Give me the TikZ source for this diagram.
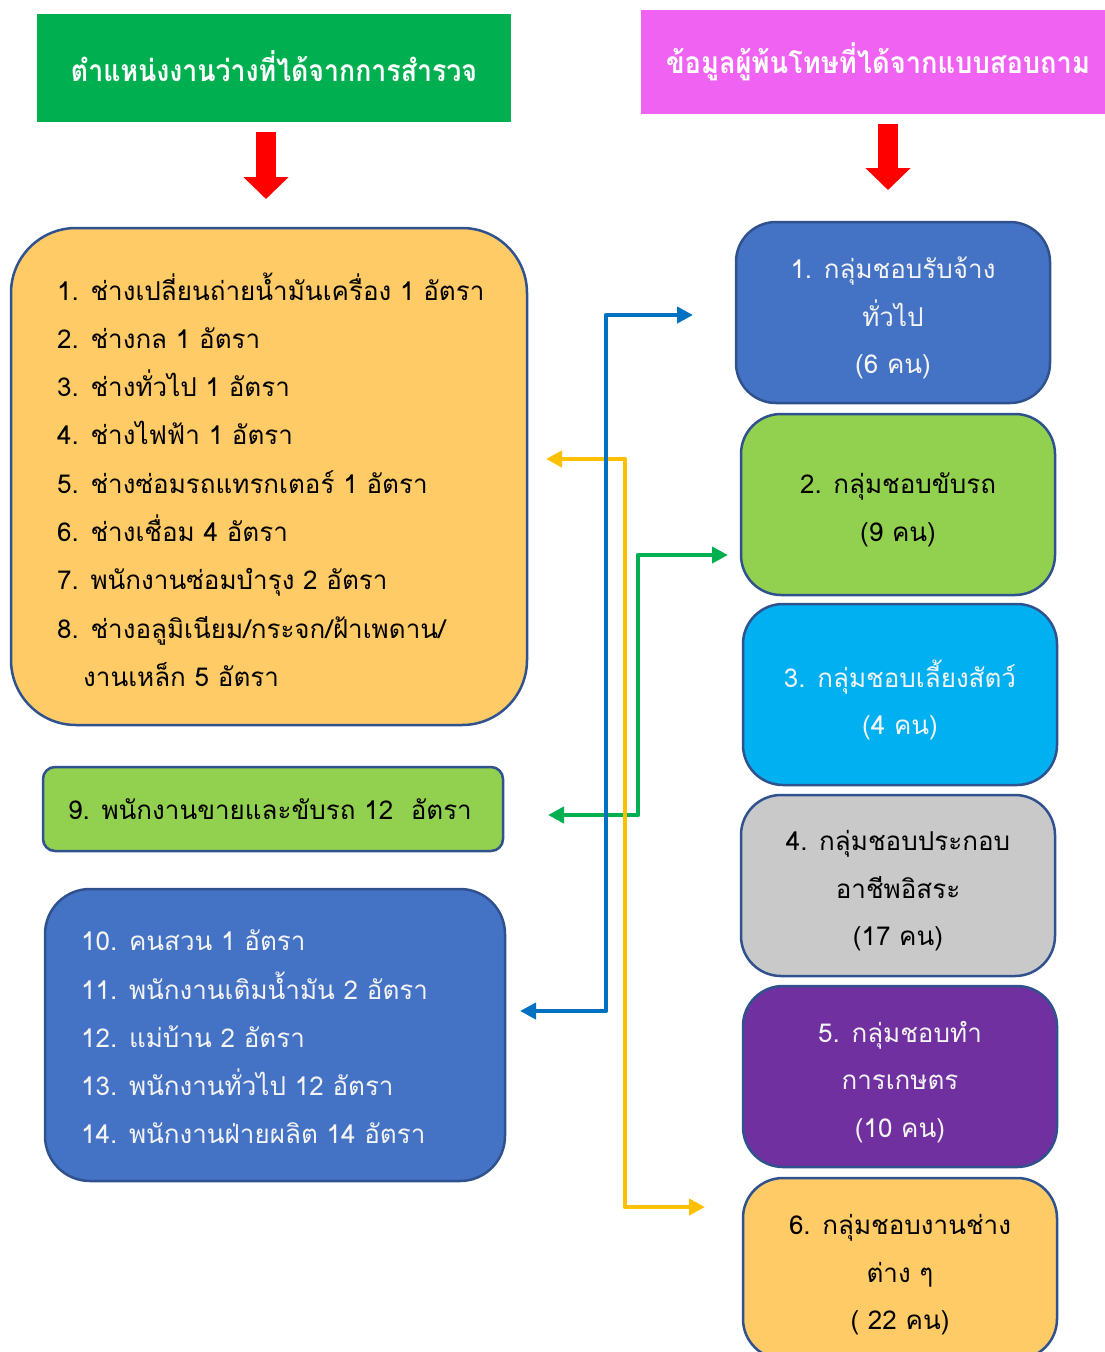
\documentclass[tikz,border=0pt]{standalone}
\usepackage{fontspec}
\usepackage{graphicx}
\newfontfamily\thaifont[Script=Thai]{Loma}
\usetikzlibrary{arrows.meta}
\definecolor{hgreen}{HTML}{00B050}
\definecolor{hmag}{HTML}{F062F2}
\definecolor{borangE}{HTML}{FFCB67}
\definecolor{bgreen}{HTML}{92D050}
\definecolor{bblue}{HTML}{4472C4}
\definecolor{bcyan}{HTML}{00B0F0}
\definecolor{bgray}{HTML}{C9C9C9}
\definecolor{bpurple}{HTML}{7030A0}
\definecolor{bord}{HTML}{2F528F}
\definecolor{cblue}{HTML}{0070C0}
\definecolor{cyellow}{HTML}{FFC000}
\definecolor{cgreen}{HTML}{00B050}
\definecolor{wtext}{HTML}{F4F4F4}
\tikzset{
  hdr/.style={inner sep=0pt, text=white, font=\thaifont\bfseries\fontsize{30}{32}\selectfont},
  bx/.style={draw=bord, line width=2.5pt},
  rbox/.style={bx, minimum width=314pt, minimum height=181pt, rounded corners=40pt},
  rtext/.style={inner sep=0pt, align=center, font=\thaifont\fontsize{26}{47.5}\selectfont},
  listtext/.style={inner sep=0pt, align=left, font=\thaifont\fontsize{26}{48.3}\selectfont},
  redarrow/.style={draw=red, line width=20pt, -{Triangle[length=22pt,width=44pt]}},
  conn/.style={line width=4.5pt, line join=round, {Triangle[length=16pt,width=16pt]}-{Triangle[length=16pt,width=16pt]}}
}
\begin{document}
\begin{tikzpicture}[x=1pt,y=-1pt]
\useasboundingbox (0,0) rectangle (1104,1352);
% headers
\node[hdr, fill=hgreen, minimum width=474pt, minimum height=108pt] (h1) at (274,68)
  {\raisebox{4pt}{\resizebox{406pt}{\height}{ตำแหน่งงานว่างที่ได้จากการสำรวจ}}};
\node[hdr, fill=hmag, minimum width=474pt, minimum height=104pt] (h2) at (878,62)
  {\raisebox{3pt}{\resizebox{424pt}{\height}{ข้อมูลผู้พ้นโทษที่ได้จากแบบสอบถาม}}};
% red arrows
\coordinate (ra1s) at (266,132); \coordinate (ra1e) at (266,199);
\coordinate (ra2s) at (888,124); \coordinate (ra2e) at (888,190);
\draw[redarrow] (ra1s) -- (ra1e);
\draw[redarrow] (ra2s) -- (ra2e);
% left boxes
\node[bx, fill=borangE, minimum width=516pt, minimum height=497pt, rounded corners=65pt] (L1) at (269,476.5) {};
\node[listtext, anchor=west] (L1t) at (57,479.5) {1. ช่างเปลี่ยนถ่ายน้ำมันเครื่อง 1 อัตรา\\
2. ช่างกล 1 อัตรา\\
3. ช่างทั่วไป 1 อัตรา\\
4. ช่างไฟฟ้า 1 อัตรา\\
5. ช่างซ่อมรถแทรกเตอร์ 1 อัตรา\\
6. ช่างเชื่อม 4 อัตรา\\
7. พนักงานซ่อมบำรุง 2 อัตรา\\
8. ช่างอลูมิเนียม/กระจก/ฝ้าเพดาน/\\
\hspace*{26pt}งานเหล็ก 5 อัตรา};
\node[bx, fill=bgreen, minimum width=460pt, minimum height=84pt, rounded corners=12pt] (L2) at (273,809) {};
\node[listtext, anchor=west] (L2t) at (68,809.5) {9. พนักงานขายและขับรถ 12\ \ อัตรา};
\node[bx, fill=bblue, minimum width=460pt, minimum height=292pt, rounded corners=45pt] (L3) at (275,1035) {};
\node[listtext, anchor=west, text=wtext] (L3t) at (81,1037) {10. คนสวน 1 อัตรา\\
11. พนักงานเติมน้ำมัน 2 อัตรา\\
12. แม่บ้าน 2 อัตรา\\
13. พนักงานทั่วไป 12 อัตรา\\
14. พนักงานฝ่ายผลิต 14 อัตรา};
% right boxes
\node[rbox, fill=bblue] (r1) at (893,312.5) {};
\node[rtext, text=wtext] (r1t) at (893,318) {1. กลุ่มชอบรับจ้าง\\ทั่วไป\\(6 คน)};
\node[rbox, fill=bgreen] (r2) at (898,504.5) {};
\node[rtext, text=black] (r2t) at (898,510) {2. กลุ่มชอบขับรถ\\(9 คน)};
\node[rbox, fill=bcyan] (r3) at (900,694.5) {};
\node[rtext, text=wtext] (r3t) at (900,700) {3. กลุ่มชอบเลี้ยงสัตว์\\(4 คน)};
\node[rbox, fill=bgray] (r4) at (898,885.5) {};
\node[rtext, text=black] (r4t) at (898,891) {4. กลุ่มชอบประกอบ\\อาชีพอิสระ\\(17 คน)};
\node[rbox, fill=bpurple] (r5) at (900,1076.5) {};
\node[rtext, text=wtext] (r5t) at (900,1082) {5. กลุ่มชอบทำ\\การเกษตร\\(10 คน)};
\node[rbox, fill=borangE] (r6) at (900,1268.5) {};
\node[rtext, text=black] (r6t) at (900,1275) {6. กลุ่มชอบงานช่าง\\ต่าง ๆ\\( 22 คน)};
% connectors
\coordinate (gA) at (728,555); \coordinate (gc1) at (638,555); \coordinate (gc2) at (638,815); \coordinate (gB) at (548,815);
\draw[conn, draw=cgreen] (gB) -- (gc2) -- (gc1) -- (gA);
\coordinate (yA) at (546,459); \coordinate (yc1) at (625,459); \coordinate (yc2) at (625,1207); \coordinate (yB) at (705,1207);
\draw[conn, draw=cyellow] (yA) -- (yc1) -- (yc2) -- (yB);
\coordinate (bA) at (693,315); \coordinate (bc1) at (606,315); \coordinate (bc2) at (606,1011); \coordinate (bB) at (520,1011);
\draw[conn, draw=cblue] (bB) -- (bc2) -- (bc1) -- (bA);
\end{tikzpicture}
\end{document}
